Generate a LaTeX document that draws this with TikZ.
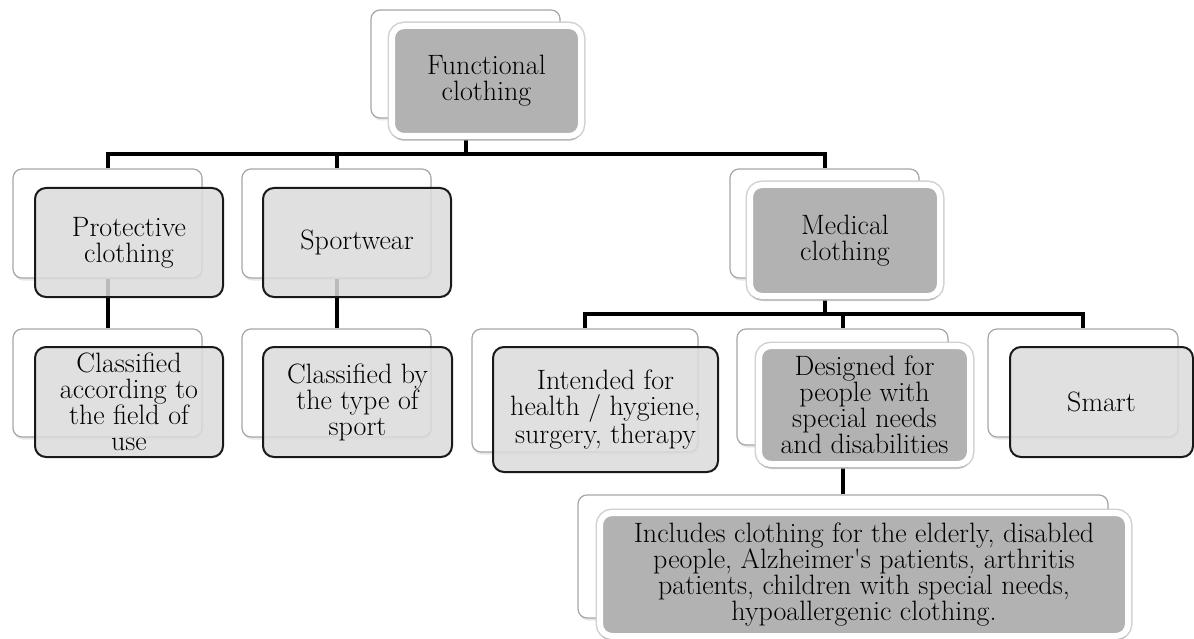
\documentclass[tikz,border=0pt]{standalone}
\usepackage{fontspec}
\usetikzlibrary{shadows}
\tikzset{
  backbox/.style={draw=black!35,line width=1.2pt,fill=white,rounded corners=9pt,
    drop shadow={opacity=0.18,shadow xshift=1pt,shadow yshift=-2.5pt}},
  lightbox/.style={draw=black!90,line width=2pt,fill=black!14,fill opacity=0.85,
    text opacity=1,rounded corners=11pt,align=center,inner sep=0pt},
  darkbox/.style={draw=white,line width=6pt,fill=black!30,rounded corners=12pt,
    align=center,inner sep=0pt,preaction={draw=black!18,line width=9pt},
    drop shadow={opacity=0.3,shadow xshift=0pt,shadow yshift=-5pt}},
  conn/.style={line width=4pt,black}
}
\begin{document}
\begin{tikzpicture}[x=1pt,y=-1pt,font=\fontsize{28}{26}\selectfont]
\useasboundingbox (0,0) rectangle (1194,639);

\node[backbox,minimum width=189pt,minimum height=108pt] (funcB) at (465.5,64) {};
\node[backbox,minimum width=189pt,minimum height=109pt] (protB) at (107.5,223.5) {};
\node[backbox,minimum width=189pt,minimum height=109pt] (sportB) at (336.5,223.5) {};
\node[backbox,minimum width=189pt,minimum height=109pt] (medB) at (824.5,223.5) {};
\node[backbox,minimum width=189pt,minimum height=108pt] (useB) at (107.5,383) {};
\node[backbox,minimum width=189pt,minimum height=108pt] (typeB) at (336.5,383) {};
\node[backbox,minimum width=226pt,minimum height=123pt] (hygB) at (585,390.5) {};
\node[backbox,minimum width=211pt,minimum height=116pt] (needsB) at (842.5,387) {};
\node[backbox,minimum width=190pt,minimum height=108pt] (smartB) at (1083,383) {};
\node[backbox,minimum width=530pt,minimum height=123pt] (inclB) at (843,556.5) {};

\draw[conn] (funcB.south) -- ++(0,35) -| (protB.north);
\draw[conn] (funcB.south) ++(0,35) -| (sportB.north);
\draw[conn] (funcB.south) ++(0,35) -| (medB.north);
\draw[conn] (protB.south) -- (useB.north);
\draw[conn] (sportB.south) -- (typeB.north);
\draw[conn] (medB.south) -- ++(0,35) -| (hygB.north);
\draw[conn] (medB.south) ++(0,35) -| (needsB.north);
\draw[conn] (medB.south) ++(0,35) -| (smartB.north);
\draw[conn] (needsB.south) -- (needsB.south |- inclB.north);

\node[darkbox,minimum width=189pt,minimum height=110pt] (func) at (486.5,81) {Functional\\clothing};
\node[lightbox,minimum width=188pt,minimum height=109pt] (prot) at (129,242.5) {Protective\\clothing};
\node[lightbox,minimum width=188pt,minimum height=109pt] (sport) at (357,242.5) {Sportwear};
\node[darkbox,minimum width=190pt,minimum height=111pt] (med) at (845,240.5) {Medical\\clothing};
\node[lightbox,minimum width=188pt,minimum height=110pt] (use) at (129,402) {Classified\\according to\\the field of\\use};
\node[lightbox,minimum width=189pt,minimum height=110pt] (type) at (357.5,402) {Classified by\\the type of\\sport};
\node[lightbox,minimum width=225pt,minimum height=125pt] (hyg) at (605.5,409.5) {Intended for\\health / hygiene,\\surgery, therapy};
\node[darkbox,minimum width=211pt,minimum height=118pt] (needs) at (864.5,405) {Designed for\\people with\\special needs\\and disabilities};
\node[lightbox,minimum width=183pt,minimum height=110pt] (smart) at (1101.5,402) {Smart};
\node[darkbox,minimum width=528pt,minimum height=123pt] (incl) at (864,574.5) {Includes clothing for the elderly, disabled\\people, Alzheimer\textquotesingle s patients, arthritis\\patients, children with special needs,\\hypoallergenic clothing.};

\end{tikzpicture}
\end{document}
